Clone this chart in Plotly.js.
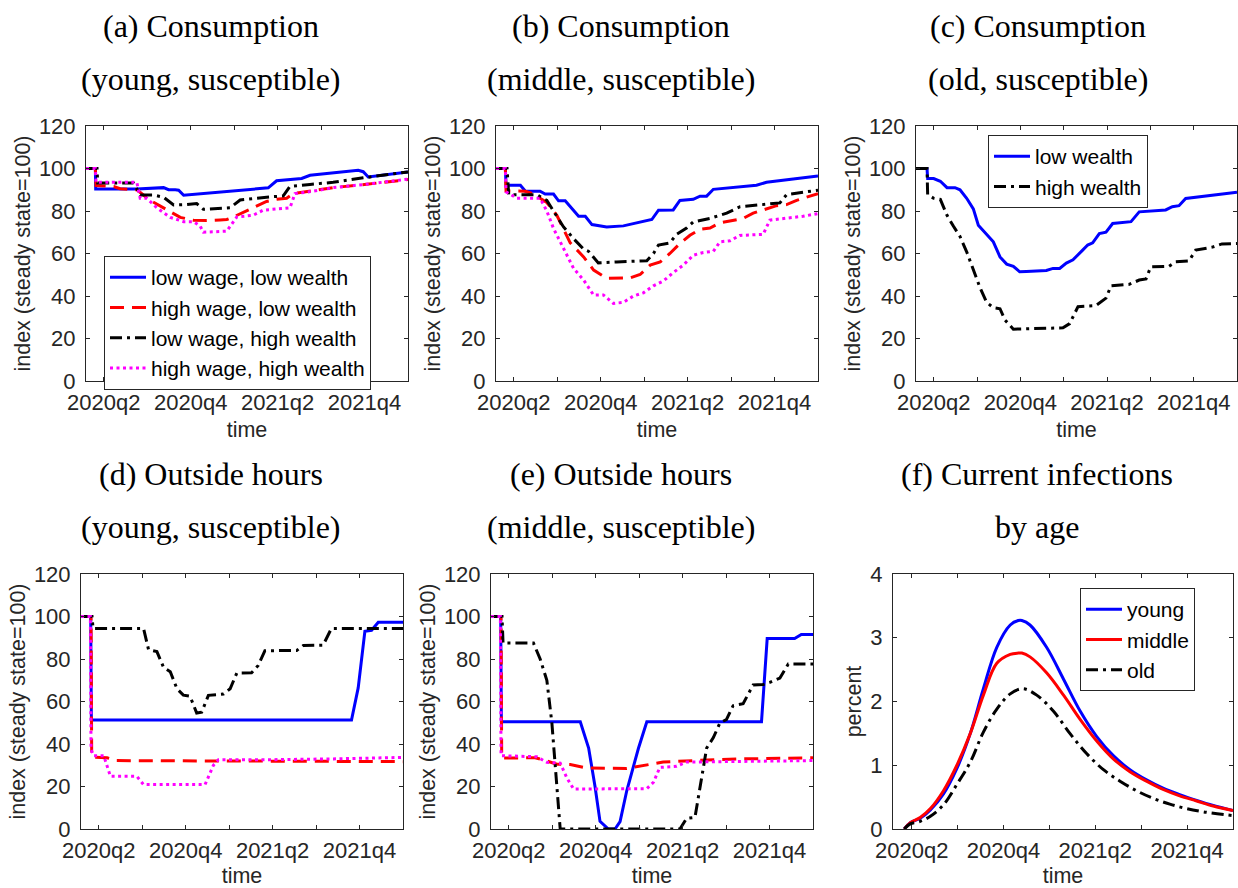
<!DOCTYPE html>
<html>
<head>
<meta charset="utf-8">
<script src="https://cdn.plot.ly/plotly-3.0.1.min.js"></script>
<style>
  html, body { margin: 0; padding: 0; background: #fff; }
  #chart { width: 1238px; height: 888px; }
</style>
</head>
<body>
<div id="chart"></div>
<script>
// ---- time axis: weeks since start of simulation; quarter ticks ----
const quarterLabels = ['2020q2', '', '2020q4', '', '2021q2', '', '2021q4', ''];
const firstQuarterWeek = 5.3;
const weeksPerQuarter = 13;
const weekEnd = 96.3;

const seriesNames4 = ['low wage, low wealth', 'high wage, low wealth', 'low wage, high wealth', 'high wage, high wealth'];
const seriesNames2 = ['low wealth', 'high wealth'];
const seriesNamesAge = ['young', 'middle', 'old'];

// ---- (a) Consumption, young susceptible ----
const a_lowlow_x = [0, 2.8, 2.9, 15.2, 23.2, 24.7, 26.7, 27.7, 29.2, 54.5, 57.0, 64.5, 67.0, 81.4, 82.9, 84.4, 96.3];
const a_lowlow_y = [100, 100, 90.3, 90.3, 91, 90, 90, 89.8, 87.4, 90.9, 94.2, 95.3, 96.8, 99.2, 98.5, 96, 98.4];
const a_hilow_x = [0, 2.8, 3.0, 8.3, 10.2, 15.2, 19.2, 24.2, 28.2, 32.1, 36.1, 40.1, 42.1, 44.1, 48.1, 52.0, 54.0, 57.0, 60.0, 62.0, 68.0, 73.9, 83.9, 96.3];
const a_hilow_y = [100, 100, 92, 91.5, 90.5, 90, 85, 80.5, 77, 75.7, 75.5, 75.8, 76, 77.2, 80, 83, 84.5, 85.5, 86, 88.2, 89.5, 91, 92.6, 94.8];
const a_lowhigh_x = [0, 3.3, 3.5, 14.2, 16.2, 20.2, 23.2, 26.2, 30.1, 33.1, 35.1, 39.1, 43.1, 46.1, 50.0, 54.0, 59.0, 61.0, 67.0, 73.9, 82.9, 96.3];
const a_lowhigh_y = [100, 100, 93.2, 93.2, 87.5, 87.5, 86.5, 82.8, 83, 83.5, 80.8, 81, 81.5, 85.2, 86, 86.5, 87.1, 91.6, 92.5, 93.5, 95.6, 98.4];
const a_hihigh_x = [0, 2.8, 3.0, 15.2, 16.2, 18.2, 21.2, 25.2, 29.2, 32.1, 34.1, 35.1, 42.1, 45.1, 50.0, 53.0, 61.0, 62.5, 68.0, 73.9, 83.9, 96.3];
const a_hihigh_y = [100, 100, 93.5, 93.5, 86, 86, 81.5, 77, 75, 75, 73, 70, 70.5, 77.2, 78, 80.4, 81.5, 88.2, 89.3, 91, 92.6, 95];

// ---- (b) Consumption, middle susceptible ----
const b_lowlow_x = [0, 2.8, 3.0, 7.3, 8.8, 13.2, 14.7, 17.2, 18.7, 20.7, 24.7, 26.7, 28.7, 33.1, 38.1, 44.1, 46.6, 48.6, 53.0, 55.0, 59.0, 61.0, 63.0, 65.0, 77.9, 80.9, 96.3];
const b_lowlow_y = [100, 100, 92.1, 92.1, 89.3, 89.3, 88, 88, 84.8, 84.8, 77.5, 77.5, 73.6, 72.5, 73, 75, 76, 80.4, 80.5, 85, 85.5, 87, 87, 90.2, 92.1, 93.5, 96.5];
const b_hilow_x = [0, 2.8, 3.0, 8.8, 11.2, 15.2, 18.2, 22.2, 26.2, 29.2, 33.1, 40.1, 43.1, 46.1, 49.1, 52.0, 55.0, 58.0, 61.0, 64.0, 66.97, 73.9, 76.9, 83.9, 86.9, 89.9, 96.3];
const b_hilow_y = [100, 100, 89.5, 89.3, 88, 84, 78, 65, 58.4, 52.2, 48.3, 48.5, 50.1, 54.5, 56, 60, 64.7, 68.6, 71.4, 72, 74.4, 76.5, 79, 82.5, 83, 85, 88.2];
const b_lowhigh_x = [0, 3.3, 3.8, 12.2, 15.2, 17.2, 20.2, 23.2, 26.2, 27.7, 30.6, 36.1, 45.1, 47.1, 48.6, 52.0, 54.0, 57.0, 59.0, 64.0, 69.0, 73.0, 78.9, 84.9, 86.9, 96.3];
const b_lowhigh_y = [100, 100, 87.7, 87.7, 85, 80, 72.5, 67, 62, 61, 55.6, 56, 56.6, 60, 64, 65, 69, 72, 74.9, 76.5, 79, 82, 83, 83.8, 87.7, 89.8];
const b_hihigh_x = [0, 2.8, 3.0, 6.3, 13.2, 15.2, 17.2, 20.2, 23.2, 26.2, 29.2, 32.1, 35.1, 38.1, 41.1, 44.1, 47.1, 50.0, 53.0, 56.0, 59.0, 62.0, 65.0, 66.97, 70.0, 72.9, 79.9, 81.9, 91.8, 96.3];
const b_hihigh_y = [100, 100, 89, 86, 86, 80, 71.8, 62.4, 53, 47.5, 40.4, 40.5, 36.5, 37, 40, 41.5, 44.8, 47, 51, 54.5, 59.2, 60.5, 61, 65.5, 66, 68.5, 69, 75.7, 77.5, 78.8];

// ---- (c) Consumption, old susceptible ----
const c_low_x = [0, 3.3, 3.5, 5.3, 7.3, 9.3, 11.7, 13.2, 15.2, 17.2, 18.7, 20.7, 23.2, 25.2, 27.2, 29.2, 31.1, 33.1, 39.1, 41.1, 43.1, 45.1, 47.1, 50.0, 51.5, 53.0, 55.0, 57.0, 59.0, 64.5, 66.97, 74.9, 76.9, 78.9, 80.9, 96.3];
const c_low_y = [100, 100, 95.3, 95.3, 94, 91, 91, 90, 86, 81, 73.3, 70, 65.5, 58.4, 55, 54, 51.4, 51.5, 52, 53, 53, 55.5, 57, 61.6, 64, 65, 69.4, 70, 74.1, 75, 79.6, 80.5, 82, 82.5, 85.9, 88.8];
const c_high_x = [0, 3.3, 3.5, 5.3, 7.3, 9.3, 11.2, 13.2, 15.2, 17.2, 19.2, 21.2, 23.2, 25.2, 26.7, 29.2, 34.1, 44.1, 46.1, 48.6, 54.0, 57.0, 58.5, 64.0, 66.97, 69.0, 70.4, 75.9, 77.9, 81.9, 83.9, 88.9, 91.8, 96.3];
const c_high_y = [100, 100, 87.7, 86, 85.5, 78, 72.9, 68, 60.8, 52, 43.9, 37, 34.5, 34, 28.7, 24.4, 24.5, 25, 27, 35, 35.5, 39, 44.8, 45.5, 47.5, 48, 53.7, 54, 56.1, 56.5, 61.6, 63, 64.5, 64.7];

// ---- (d) Outside hours, young susceptible ----
const d_lowlow_x = [0, 2.9, 3.1, 80.9, 82.9, 84.9, 86.9, 88.9, 96.3];
const d_lowlow_y = [100, 100, 51.3, 51.3, 66.4, 93, 93.5, 97.3, 97.3];
const d_hilow_x = [0, 3.0, 3.2, 7.8, 10.7, 96.3];
const d_hilow_y = [100, 100, 33.9, 33.5, 32.2, 31.7];
const d_lowhigh_x = [0, 3.3, 3.6, 18.7, 20.2, 22.7, 24.7, 26.7, 28.7, 30.6, 32.6, 34.6, 36.1, 38.1, 42.6, 44.6, 46.6, 51.0, 53.0, 55.0, 64.5, 66.5, 72.4, 74.9, 96.3];
const d_lowhigh_y = [100, 100, 94.4, 94.4, 84.4, 83.5, 76, 74, 66, 63, 62.5, 54.6, 55, 62.9, 63.5, 66, 73.4, 73.5, 77, 83.9, 84, 86.4, 86.5, 94.4, 94.4];
const d_hihigh_x = [0, 2.8, 3.0, 3.8, 6.8, 8.8, 16.7, 18.7, 37.1, 39.6, 41.1, 55.5, 75.4, 96.3];
const d_hihigh_y = [100, 100, 37.3, 34.5, 34.5, 24.8, 24.8, 20.9, 20.9, 30, 32.6, 32.6, 33, 33.7];

// ---- (e) Outside hours, middle susceptible ----
const e_lowlow_x = [0, 2.9, 3.1, 26.7, 29.2, 31.1, 32.6, 35.1, 37.1, 38.6, 40.6, 44.1, 46.6, 80.9, 82.6, 90.8, 92.8, 96.3];
const e_lowlow_y = [100, 100, 50.5, 50.5, 38.1, 20.1, 3.6, 0, 0, 3.5, 18, 38, 50.5, 50.5, 89.6, 89.6, 91.5, 91.5];
const e_hilow_x = [0, 3.0, 3.2, 13.2, 15.7, 19.7, 23.7, 28.7, 40.6, 45.6, 51.5, 60.5, 75.4, 96.3];
const e_hilow_y = [100, 100, 33.4, 33.5, 32.5, 30.5, 30.3, 28.7, 28.5, 30, 31.5, 32.2, 33, 33.5];
const e_lowhigh_x = [0, 3.3, 3.6, 12.7, 14.7, 16.7, 18.2, 19.7, 20.7, 56.5, 58.5, 61.0, 62.5, 64.5, 66.5, 68.5, 70.4, 72.4, 75.4, 78.4, 81.4, 83.4, 86.4, 88.9, 96.3];
const e_lowhigh_y = [100, 100, 87.5, 87.5, 80, 70, 50, 20, 0, 0, 5, 5.5, 20, 38.1, 43, 50, 51.5, 58, 59, 67.8, 68, 69, 71, 77.6, 77.6];
const e_hihigh_x = [0, 2.8, 3.0, 13.7, 16.7, 20.7, 22.7, 24.7, 46.6, 48.6, 50.5, 55.5, 58.5, 96.3];
const e_hihigh_y = [100, 100, 34.5, 34, 31.4, 31, 24, 18.8, 19, 22, 29, 29.5, 31.5, 32.2];

// ---- (f) Current infections by age (percent) ----
const f_x = [3.2, 4.9, 7.7, 10.6, 14.3, 18.1, 21.9, 25.6, 29.4, 33.2, 35.5, 36.5, 38.8, 43.5, 48.3, 53.0, 57.7, 62.4, 67.1, 71.8, 76.5, 81.2, 86.0, 90.7, 96.3];
const f_young = [0, 0.1, 0.17, 0.3, 0.55, 0.95, 1.5, 2.2, 2.85, 3.2, 3.27, 3.27, 3.2, 2.85, 2.35, 1.85, 1.45, 1.15, 0.93, 0.77, 0.64, 0.54, 0.45, 0.37, 0.29];
const f_middle = [0, 0.1, 0.18, 0.32, 0.6, 1.0, 1.5, 2.1, 2.6, 2.74, 2.76, 2.76, 2.7, 2.45, 2.1, 1.72, 1.38, 1.1, 0.9, 0.75, 0.62, 0.52, 0.44, 0.36, 0.29];
const f_old_x = [3.2, 4.9, 7.7, 10.6, 14.3, 18.1, 21.9, 25.6, 29.4, 33.2, 36.8, 40.7, 45.4, 50.1, 54.9, 59.6, 64.3, 69.0, 73.7, 78.4, 83.1, 87.8, 96.3];
const f_old = [0, 0.08, 0.12, 0.2, 0.38, 0.7, 1.05, 1.52, 1.88, 2.12, 2.2, 2.1, 1.85, 1.5, 1.18, 0.93, 0.75, 0.6, 0.48, 0.39, 0.32, 0.27, 0.21];

// ---- styles ----
const SANS = 'Liberation Sans, Arial, Helvetica, sans-serif';
const SERIF = 'Liberation Serif, Times New Roman, serif';
const AXC = '#262626';
const LW = 3;
const styles = {
  blue:    {color: '#0000ff', dash: 'solid'},
  red:     {color: '#ff0000', dash: '14px,8px'},
  black:   {color: '#000000', dash: '12px,5px,3px,5px'},
  magenta: {color: '#ff00ff', dash: '3px,3.5px'},
  redSolid:{color: '#ff0000', dash: 'solid'}
};

function tr(x, y, st, name, k, legend, showlegend, shape) {
  return {
    type: 'scatter', mode: 'lines', x: x, y: y, name: name,
    xaxis: 'x' + (k === 1 ? '' : k), yaxis: 'y' + (k === 1 ? '' : k),
    line: {color: styles[st].color, dash: styles[st].dash, width: LW, shape: shape || 'linear'},
    legend: legend, showlegend: showlegend, hoverinfo: 'x+y'
  };
}

const data = [
  tr(a_lowlow_x, a_lowlow_y, 'blue', seriesNames4[0], 1, 'legend', true),
  tr(a_hilow_x, a_hilow_y, 'red', seriesNames4[1], 1, 'legend', true),
  tr(a_lowhigh_x, a_lowhigh_y, 'black', seriesNames4[2], 1, 'legend', true),
  tr(a_hihigh_x, a_hihigh_y, 'magenta', seriesNames4[3], 1, 'legend', true),

  tr(b_lowlow_x, b_lowlow_y, 'blue', seriesNames4[0], 2, 'legend', false),
  tr(b_hilow_x, b_hilow_y, 'red', seriesNames4[1], 2, 'legend', false),
  tr(b_lowhigh_x, b_lowhigh_y, 'black', seriesNames4[2], 2, 'legend', false),
  tr(b_hihigh_x, b_hihigh_y, 'magenta', seriesNames4[3], 2, 'legend', false),

  tr(c_low_x, c_low_y, 'blue', seriesNames2[0], 3, 'legend2', true),
  tr(c_high_x, c_high_y, 'black', seriesNames2[1], 3, 'legend2', true),

  tr(d_lowlow_x, d_lowlow_y, 'blue', seriesNames4[0], 4, 'legend', false),
  tr(d_hilow_x, d_hilow_y, 'red', seriesNames4[1], 4, 'legend', false),
  tr(d_lowhigh_x, d_lowhigh_y, 'black', seriesNames4[2], 4, 'legend', false),
  tr(d_hihigh_x, d_hihigh_y, 'magenta', seriesNames4[3], 4, 'legend', false),

  tr(e_lowlow_x, e_lowlow_y, 'blue', seriesNames4[0], 5, 'legend', false),
  tr(e_hilow_x, e_hilow_y, 'red', seriesNames4[1], 5, 'legend', false),
  tr(e_lowhigh_x, e_lowhigh_y, 'black', seriesNames4[2], 5, 'legend', false),
  tr(e_hihigh_x, e_hihigh_y, 'magenta', seriesNames4[3], 5, 'legend', false),

  tr(f_x, f_young, 'blue', seriesNamesAge[0], 6, 'legend3', true, 'spline'),
  tr(f_x, f_middle, 'redSolid', seriesNamesAge[1], 6, 'legend3', true, 'spline'),
  tr(f_old_x, f_old, 'black', seriesNamesAge[2], 6, 'legend3', true, 'spline')
];

const W = 1238, H = 888;
// plot-area pixel boxes [left, right, top, bottom]
const boxes = [
  [86, 408, 126, 381],
  [496, 818, 126, 381],
  [916, 1237, 126, 381],
  [81, 403, 574, 829],
  [491, 813, 574, 829],
  [893, 1233, 574, 829]
];

const tickvals = quarterLabels.map((_, i) => firstQuarterWeek + weeksPerQuarter * i);

function xax(b, k) {
  return {
    domain: [b[0] / W, b[1] / W], anchor: 'y' + (k === 1 ? '' : k),
    range: [0, weekEnd], tickmode: 'array', tickvals: tickvals, ticktext: quarterLabels,
    showline: true, mirror: 'ticks', linecolor: AXC, linewidth: 1,
    ticks: 'inside', ticklen: 4, tickcolor: AXC, tickwidth: 1,
    showgrid: false, zeroline: false, ticklabelstandoff: 2,
    tickfont: {family: SANS, size: 22, color: AXC},
    title: {text: 'time', font: {family: SANS, size: 21.5, color: AXC}, standoff: 7},
    fixedrange: true
  };
}
function yax(b, k, isPct) {
  return {
    domain: [1 - b[3] / H, 1 - b[2] / H], anchor: 'x' + (k === 1 ? '' : k),
    range: isPct ? [0, 4] : [0, 120], dtick: isPct ? 1 : 20, tick0: 0,
    showline: true, mirror: 'ticks', linecolor: AXC, linewidth: 1,
    ticks: 'inside', ticklen: 4, tickcolor: AXC, tickwidth: 1,
    showgrid: false, zeroline: false, ticklabelstandoff: 5,
    tickfont: {family: SANS, size: 22, color: AXC},
    title: {text: isPct ? 'percent' : 'index (steady state=100)', font: {family: SANS, size: 21.5, color: AXC}, standoff: 2},
    fixedrange: true
  };
}

const titleLines = [
  ['(a) Consumption', '(young, susceptible)', 211, 26, 79],
  ['(b) Consumption', '(middle, susceptible)', 621, 26, 79],
  ['(c) Consumption', '(old, susceptible)', 1038, 26, 79],
  ['(d) Outside hours', '(young, susceptible)', 211, 474, 527],
  ['(e) Outside hours', '(middle, susceptible)', 621, 474, 527],
  ['(f) Current infections', 'by age', 1037, 474, 527]
];
const annotations = [];
titleLines.forEach(t => {
  [[t[0], t[3]], [t[1], t[4]]].forEach(([txt, yy]) => {
    annotations.push({
      text: txt, xref: 'paper', yref: 'paper', x: t[2] / W, y: 1 - yy / H,
      xanchor: 'center', yanchor: 'middle', showarrow: false,
      font: {family: SERIF, size: 32, color: '#000'}
    });
  });
});

const legendBase = {
  xanchor: 'left', yanchor: 'top', bgcolor: '#ffffff', bordercolor: AXC, borderwidth: 1,
  font: {family: SANS, size: 21, color: '#000'}, tracegroupgap: 0, itemwidth: 36,
  itemclick: false, itemdoubleclick: false
};

const layout = {
  width: W, height: H, margin: {l: 0, r: 0, t: 0, b: 0},
  paper_bgcolor: '#ffffff', plot_bgcolor: '#ffffff',
  showlegend: true, hovermode: false,
  annotations: annotations,
  legend: Object.assign({}, legendBase, {x: 104 / W, y: 1 - 256 / H}),
  legend2: Object.assign({}, legendBase, {x: 988 / W, y: 1 - 135 / H}),
  legend3: Object.assign({}, legendBase, {x: 1080 / W, y: 1 - 588 / H})
};
boxes.forEach((b, i) => {
  const k = i + 1;
  const sfx = k === 1 ? '' : k;
  layout['xaxis' + sfx] = xax(b, k);
  layout['yaxis' + sfx] = yax(b, k, k === 6);
});

Plotly.newPlot('chart', data, layout, {staticPlot: true, displayModeBar: false});
</script>
</body>
</html>
